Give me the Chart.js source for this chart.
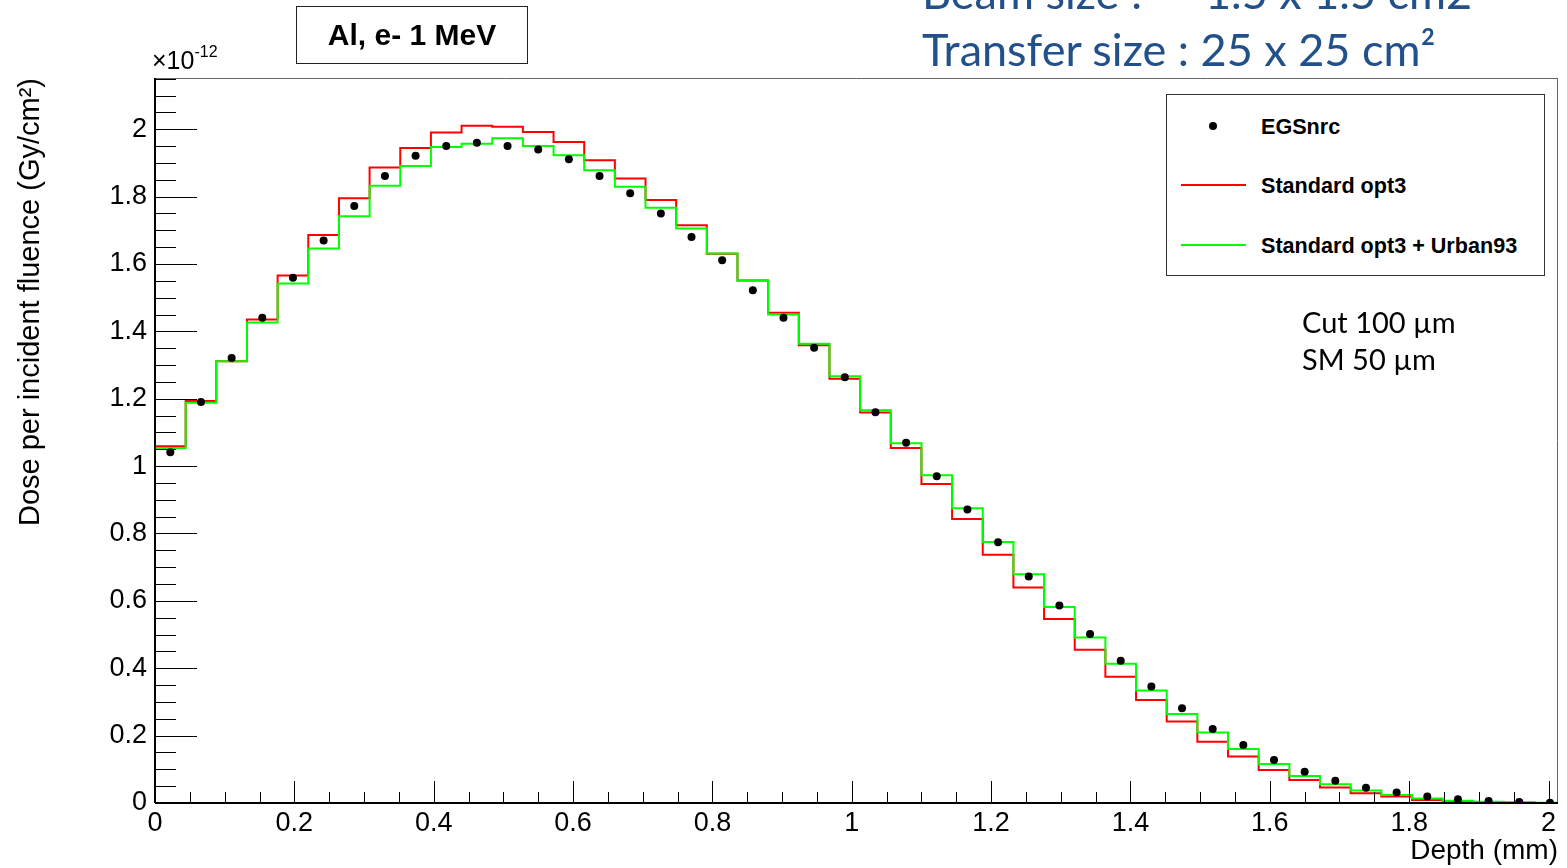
<!DOCTYPE html>
<html lang="en">
<head>
    <meta charset="UTF-8">
    <title>Al, e- 1 MeV - depth dose</title>
    <script src="https://cdn.jsdelivr.net/npm/chart.js"></script>
    <style>
        body { margin: 0; background: #fff; font-family: "Liberation Sans", Arial, sans-serif; }
        .wrap { position: relative; width: 1567px; height: 868px; overflow: hidden; }
        #doseChart { position: absolute; left: 0; top: 0; }
        .titlebox { position: absolute; left: 296px; top: 6px; width: 230px; height: 56px; border: 1px solid #222;
                    font-weight: bold; font-size: 30px; display: flex; align-items: center; justify-content: center; }
        .slide { position: absolute; font-family: Lato, "Open Sans", sans-serif; color: #22508a; font-size: 45px;
                 white-space: pre; line-height: 1; }
        .exp { position: absolute; left: 152px; top: 46px; font-size: 25px; }
        .exp sup { font-size: 16px; position: relative; top: -3px; }
        .note { position: absolute; left: 1302px; font-family: Lato, "Open Sans", sans-serif; font-size: 29px; line-height: 1; }
        /* ROOT-style legend */
        .legend { position: absolute; left: 1166px; top: 94px; width: 377px; height: 180px; border: 1px solid #333; background: #fff; }
        .legend-item { position: absolute; left: 0; width: 100%; height: 30px; }
        .legend-item .mark { position: absolute; }
        .legend-item .lbl { position: absolute; left: 94px; top: 3px; font-weight: bold; font-size: 21.6px; }
        .dot { left: 42px; top: 11px; width: 8px; height: 8px; border-radius: 50%; background: #000; }
        .seg { left: 14px; top: 14px; width: 65px; height: 2px; }
    </style>
</head>
<body>
<div class="wrap">
    <canvas id="doseChart" width="1567" height="868"></canvas>

    <div class="slide" style="left:922px; top:-30px;">Beam size :</div>
    <div class="slide" style="left:1205px; top:-30px;">1.5 x 1.5 cm2</div>
    <div class="slide" style="left:922px; top:27px;">Transfer size : 25 x 25 cm²</div>

    <div class="titlebox">Al, e- 1 MeV</div>
    <div class="exp">×10<sup>-12</sup></div>

    <div class="legend">
        <div class="legend-item" style="top:16px;"><span class="mark dot"></span><span class="lbl">EGSnrc</span></div>
        <div class="legend-item" style="top:75px;"><span class="mark seg" style="background:#ff0000;"></span><span class="lbl">Standard opt3</span></div>
        <div class="legend-item" style="top:135px;"><span class="mark seg" style="background:#00ff00;"></span><span class="lbl">Standard opt3 + Urban93</span></div>
    </div>

    <div class="note" style="top:307px;">Cut 100 µm</div>
    <div class="note" style="top:344px;">SM 50 µm</div>
</div>

<script>
    // histogram binning (mm) and axis ranges; dose values in units of 1e-12 Gy/cm2
    const binWidth = 0.044;
    const xMax = 2.0136;
    const yMax = 2.152;
    const xTickStep = 0.2, yTickStep = 0.2, minorStep = 0.05;

    const egsnrc = [1.041, 1.190, 1.321, 1.440, 1.559, 1.670, 1.772, 1.861, 1.921, 1.950,
                    1.960, 1.950, 1.940, 1.911, 1.861, 1.810, 1.750, 1.680, 1.611, 1.522,
                    1.440, 1.351, 1.264, 1.160, 1.069, 0.970, 0.871, 0.774, 0.672, 0.586,
                    0.502, 0.422, 0.346, 0.281, 0.220, 0.172, 0.128, 0.093, 0.066, 0.045,
                    0.031, 0.019, 0.011, 0.006, 0.003, 0.001];

    const standardOpt3 = [1.059, 1.193, 1.311, 1.435, 1.566, 1.686, 1.795, 1.886, 1.944, 1.990,
                          2.010, 2.007, 1.992, 1.962, 1.908, 1.854, 1.790, 1.715, 1.630, 1.551,
                          1.455, 1.359, 1.259, 1.159, 1.054, 0.947, 0.843, 0.737, 0.640, 0.546,
                          0.455, 0.375, 0.306, 0.242, 0.182, 0.138, 0.098, 0.068, 0.046, 0.029,
                          0.019, 0.009, 0.004, 0.002, 0.001, 0.000];

    const opt3Urban93 = [1.054, 1.188, 1.311, 1.426, 1.542, 1.646, 1.742, 1.832, 1.891, 1.947,
                         1.957, 1.973, 1.950, 1.923, 1.878, 1.829, 1.767, 1.705, 1.631, 1.551,
                         1.450, 1.363, 1.267, 1.166, 1.068, 0.973, 0.875, 0.775, 0.679, 0.582,
                         0.491, 0.413, 0.334, 0.264, 0.209, 0.160, 0.116, 0.080, 0.056, 0.037,
                         0.024, 0.013, 0.007, 0.004, 0.002, 0.001];

    // bin centres for the points, bin edges for the step histograms
    const centres = vals => vals.map((v, i) => ({ x: (i + 0.5) * binWidth, y: v }));
    const steps = vals => {
        const pts = vals.map((v, i) => ({ x: i * binWidth, y: v }));
        pts.push({ x: vals.length * binWidth, y: vals[vals.length - 1] });
        return pts;
    };

    const fontFamily = '"Liberation Sans", Arial, sans-serif';
    const fmt = v => String(Math.round(v * 10) / 10);

    // ROOT-like frame with ticks drawn inside the plot area
    const rootFrame = {
        id: 'rootFrame',
        afterDatasetsDraw(chart) {
            const { ctx, chartArea: a, scales: { x, y } } = chart;
            const seg = (x1, y1, x2, y2) => { ctx.beginPath(); ctx.moveTo(x1, y1); ctx.lineTo(x2, y2); ctx.stroke(); };
            ctx.save();
            ctx.strokeStyle = '#000';
            ctx.lineWidth = 1;
            for (let i = 0; i * minorStep <= yMax + 1e-9; i++) {
                const py = Math.round(y.getPixelForValue(i * minorStep)) + 0.5;
                seg(a.left, py, a.left + (i % 4 === 0 ? 42 : 21), py);
            }
            for (let i = 0; i * minorStep <= xMax + 1e-9; i++) {
                const px = Math.round(x.getPixelForValue(i * minorStep)) + 0.5;
                seg(px, a.bottom, px, a.bottom - (i % 4 === 0 ? 22 : 11));
            }
            ctx.strokeStyle = '#666';
            seg(a.left, a.top + 0.5, a.right, a.top + 0.5);
            seg(a.right - 0.5, a.top, a.right - 0.5, a.bottom);
            ctx.strokeStyle = '#000';
            ctx.lineWidth = 2;
            seg(a.left, a.top, a.left, a.bottom);
            seg(a.left, a.bottom, a.right, a.bottom);
            ctx.restore();
        }
    };

    const ctx = document.getElementById('doseChart').getContext('2d');
    const doseChart = new Chart(ctx, {
        type: 'line',
        data: {
            datasets: [{
                label: 'EGSnrc',
                data: centres(egsnrc),
                showLine: false,
                pointRadius: 4,
                pointBorderWidth: 0,
                pointBackgroundColor: '#000',
                borderColor: '#000'
            }, {
                label: 'Standard opt3 + Urban93',
                data: steps(opt3Urban93),
                stepped: 'before',
                borderColor: '#00ff00',
                borderWidth: 2,
                pointRadius: 0,
                fill: false
            }, {
                label: 'Standard opt3',
                data: steps(standardOpt3),
                stepped: 'before',
                borderColor: '#ff0000',
                borderWidth: 2,
                pointRadius: 0,
                fill: false
            }]
        },
        options: {
            responsive: false,
            animation: false,
            layout: { padding: { top: 78, right: 9, left: 0, bottom: 0 } },
            plugins: { legend: { display: false }, tooltip: { enabled: false } },
            scales: {
                x: {
                    type: 'linear',
                    min: 0,
                    max: xMax,
                    afterFit: s => { s.height = 65; },
                    grid: { display: false, drawTicks: false },
                    border: { display: false },
                    ticks: {
                        stepSize: xTickStep, includeBounds: false, autoSkip: false, maxRotation: 0,
                        padding: 4, color: '#000', font: { family: fontFamily, size: 27 },
                        callback: v => fmt(v)
                    },
                    title: {
                        display: true, text: 'Depth (mm)', align: 'end', color: '#000',
                        font: { family: fontFamily, size: 28 }, padding: { top: 0, bottom: 0 }
                    }
                },
                y: {
                    min: 0,
                    max: yMax,
                    afterFit: s => { s.width = 155; },
                    grid: { display: false, drawTicks: false },
                    border: { display: false },
                    ticks: {
                        stepSize: yTickStep, includeBounds: false, padding: 8, color: '#000',
                        font: { family: fontFamily, size: 27 },
                        callback: v => fmt(v)
                    },
                    title: {
                        display: true, text: 'Dose per incident fluence (Gy/cm²)', align: 'end', color: '#000',
                        font: { family: fontFamily, size: 29 }, padding: { top: 14, bottom: 0 }
                    }
                }
            }
        },
        plugins: [rootFrame]
    });
</script>
</body>
</html>
